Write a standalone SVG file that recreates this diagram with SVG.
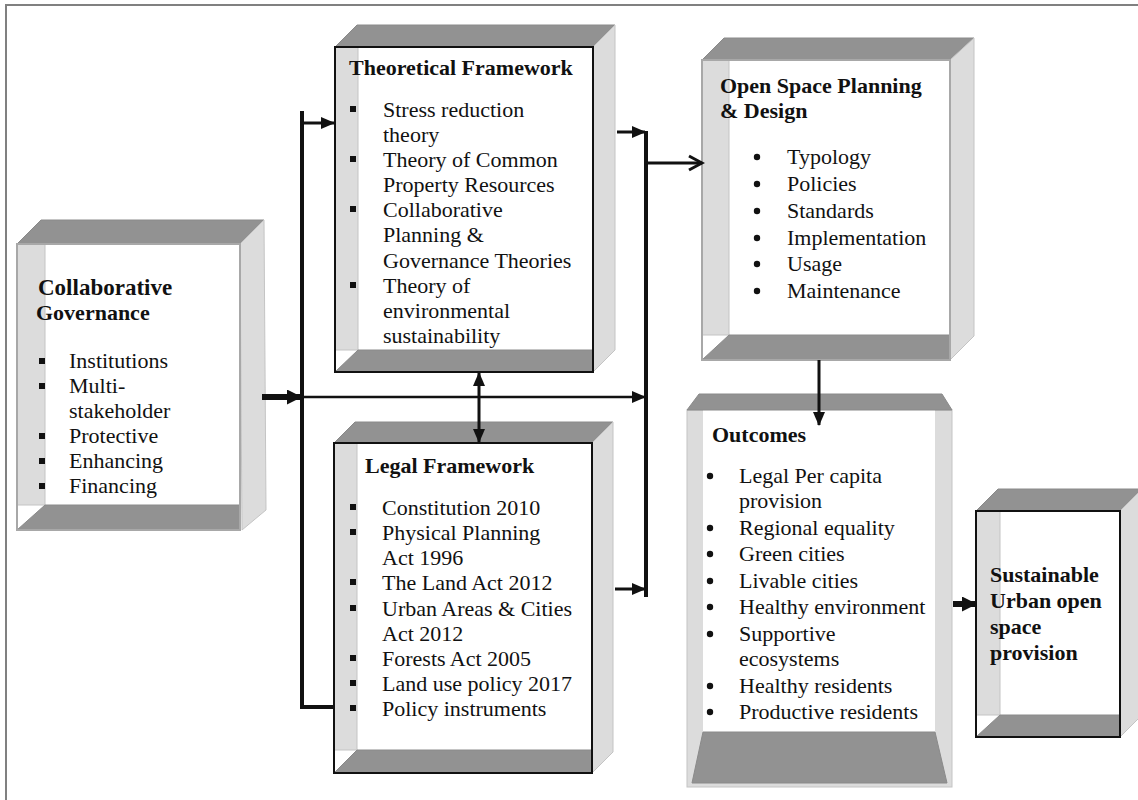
<svg xmlns="http://www.w3.org/2000/svg" width="1138" height="800" viewBox="0 0 1138 800">
<defs>
<style>
.t{font-family:"Liberation Serif","Times New Roman",serif;font-size:22px;fill:#111}
.b{font-weight:bold}
.dk{fill:#929292;stroke:#8a8a8a;stroke-width:1}
.lt{fill:#dcdcdc;stroke:#c4c4c4;stroke-width:1}
.fr{fill:#fff}
.ob{fill:none;stroke:#111;stroke-width:2}
.og{fill:none;stroke:#a8a8a8;stroke-width:2}
.sq{fill:#111}
.c{fill:none;stroke:#111;stroke-linecap:butt}
</style>
<marker id="ah" markerUnits="userSpaceOnUse" markerWidth="14" markerHeight="12" refX="13" refY="6" orient="auto-start-reverse" viewBox="0 0 14 12"><path d="M0,0 L14,6 L0,12 z" fill="#111"/></marker>
<marker id="ahb" markerUnits="userSpaceOnUse" markerWidth="15" markerHeight="15" refX="14" refY="7.5" orient="auto" viewBox="0 0 15 15"><path d="M0,0 L15,7.5 L0,15 z" fill="#111"/></marker>
<marker id="aho" markerUnits="userSpaceOnUse" markerWidth="18" markerHeight="18" refX="15" refY="9" orient="auto" viewBox="0 0 18 18"><path d="M2,2 L15,9 L2,16" fill="none" stroke="#111" stroke-width="3"/></marker>
</defs>
<rect width="1138" height="800" fill="#fff"/>
<path d="M6,810 L6,5 L1138,5" fill="none" stroke="#808080" stroke-width="2"/>

<g id="collaborative-governance">
<polygon class="dk" points="17,244 41,220 264,220 240,244"/>
<polygon class="lt" points="240,244 264,220 266,510 242,530"/>
<rect class="fr" x="17" y="244" width="223" height="286"/>
<rect class="lt" x="17" y="244" width="28" height="261"/>
<polygon class="dk" points="17,530 45,505 240,505 240,530"/>
<rect class="og" x="17" y="244" width="223" height="286"/>
<text class="t b" x="38" y="295" style="font-size:23px">Collaborative</text>
<text class="t b" x="36" y="320">Governance</text>
<rect class="sq" x="39" y="358" width="6" height="6"/>
<rect class="sq" x="39" y="383" width="6" height="6"/>
<rect class="sq" x="39" y="433" width="6" height="6"/>
<rect class="sq" x="39" y="458" width="6" height="6"/>
<rect class="sq" x="39" y="483" width="6" height="6"/>
<text class="t" x="69" y="368">Institutions</text>
<text class="t" x="69" y="393">Multi-</text>
<text class="t" x="69" y="418">stakeholder</text>
<text class="t" x="69" y="443">Protective</text>
<text class="t" x="69" y="468">Enhancing</text>
<text class="t" x="69" y="493">Financing</text>
</g>

<g id="theoretical-framework">
<polygon class="dk" points="335,47 357,25 615,25 593,47"/>
<polygon class="lt" points="593,47 615,25 615,350 593,372"/>
<rect class="fr" x="335" y="47" width="258" height="325"/>
<rect class="lt" x="335" y="47" width="23" height="303"/>
<polygon class="dk" points="335,372 358,350 593,350 593,372"/>
<rect class="ob" x="335" y="47" width="258" height="325"/>
<text class="t b" x="349" y="75">Theoretical Framework</text>
<rect class="sq" x="350" y="106" width="6" height="6"/>
<rect class="sq" x="350" y="156" width="6" height="6"/>
<rect class="sq" x="350" y="206" width="6" height="6"/>
<rect class="sq" x="350" y="282" width="6" height="6"/>
<text class="t" x="383" y="117">Stress reduction</text>
<text class="t" x="383" y="142">theory</text>
<text class="t" x="383" y="167">Theory of Common</text>
<text class="t" x="383" y="192">Property Resources</text>
<text class="t" x="383" y="217">Collaborative</text>
<text class="t" x="383" y="242">Planning &amp;</text>
<text class="t" x="383" y="268">Governance Theories</text>
<text class="t" x="383" y="293">Theory of</text>
<text class="t" x="383" y="318">environmental</text>
<text class="t" x="383" y="343">sustainability</text>
</g>

<g id="legal-framework">
<polygon class="dk" points="334,443 355,422 613,422 592,443"/>
<polygon class="lt" points="592,443 613,422 613,752 592,773"/>
<rect class="fr" x="334" y="443" width="258" height="330"/>
<rect class="lt" x="334" y="443" width="23" height="307"/>
<polygon class="dk" points="334,773 357,750 592,750 592,773"/>
<rect class="ob" x="334" y="443" width="258" height="330"/>
<text class="t b" x="365" y="473">Legal Framework</text>
<rect class="sq" x="350" y="504" width="6" height="6"/>
<rect class="sq" x="350" y="529" width="6" height="6"/>
<rect class="sq" x="350" y="579" width="6" height="6"/>
<rect class="sq" x="350" y="605" width="6" height="6"/>
<rect class="sq" x="350" y="655" width="6" height="6"/>
<rect class="sq" x="350" y="680" width="6" height="6"/>
<rect class="sq" x="350" y="705" width="6" height="6"/>
<text class="t" x="382" y="515">Constitution 2010</text>
<text class="t" x="382" y="540">Physical Planning</text>
<text class="t" x="382" y="565">Act 1996</text>
<text class="t" x="382" y="590">The Land Act 2012</text>
<text class="t" x="382" y="616">Urban Areas &amp; Cities</text>
<text class="t" x="382" y="641">Act 2012</text>
<text class="t" x="382" y="666">Forests Act 2005</text>
<text class="t" x="382" y="691">Land use policy 2017</text>
<text class="t" x="382" y="716">Policy instruments</text>
</g>

<g id="open-space-planning">
<polygon class="dk" points="702,60 724,38 974,38 950,60"/>
<polygon class="lt" points="950,60 974,38 974,336 950,360"/>
<rect class="fr" x="702" y="60" width="248" height="300"/>
<rect class="lt" x="702" y="60" width="27" height="275"/>
<polygon class="dk" points="702,360 729,335 950,335 950,360"/>
<rect class="og" x="702" y="60" width="248" height="300"/>
<text class="t b" x="720" y="93">Open Space Planning</text>
<text class="t b" x="720" y="118">&amp; Design</text>
<circle class="sq" cx="757" cy="157" r="3.2"/>
<circle class="sq" cx="757" cy="184" r="3.2"/>
<circle class="sq" cx="757" cy="211" r="3.2"/>
<circle class="sq" cx="757" cy="238" r="3.2"/>
<circle class="sq" cx="757" cy="264" r="3.2"/>
<circle class="sq" cx="757" cy="291" r="3.2"/>
<text class="t" x="787" y="164">Typology</text>
<text class="t" x="787" y="191">Policies</text>
<text class="t" x="787" y="218">Standards</text>
<text class="t" x="787" y="245">Implementation</text>
<text class="t" x="787" y="271">Usage</text>
<text class="t" x="787" y="298">Maintenance</text>
</g>

<g id="outcomes">
<rect class="lt" x="687" y="410" width="265" height="377"/>
<rect class="fr" x="703" y="410" width="232" height="322"/>
<polygon class="dk" points="703,732 935,732 947,783 692,783"/>
<polygon class="dk" points="687,410 699,394 942,394 952,410"/>
<text class="t b" x="712" y="442">Outcomes</text>
<circle class="sq" cx="710" cy="476" r="3.2"/>
<circle class="sq" cx="710" cy="528" r="3.2"/>
<circle class="sq" cx="710" cy="554" r="3.2"/>
<circle class="sq" cx="710" cy="581" r="3.2"/>
<circle class="sq" cx="710" cy="607" r="3.2"/>
<circle class="sq" cx="710" cy="634" r="3.2"/>
<circle class="sq" cx="710" cy="686" r="3.2"/>
<circle class="sq" cx="710" cy="712" r="3.2"/>
<text class="t" x="739" y="483">Legal Per capita</text>
<text class="t" x="739" y="508">provision</text>
<text class="t" x="739" y="535">Regional equality</text>
<text class="t" x="739" y="561">Green cities</text>
<text class="t" x="739" y="588">Livable cities</text>
<text class="t" x="739" y="614">Healthy environment</text>
<text class="t" x="739" y="641">Supportive</text>
<text class="t" x="739" y="666">ecosystems</text>
<text class="t" x="739" y="693">Healthy residents</text>
<text class="t" x="739" y="719">Productive residents</text>
</g>

<g id="sustainable-provision">
<polygon class="dk" points="976,511 998,489 1142,489 1120,511"/>
<polygon class="lt" points="1120,511 1142,489 1142,715 1120,737"/>
<rect class="fr" x="976" y="511" width="144" height="226"/>
<rect class="lt" x="976" y="511" width="24" height="204"/>
<polygon class="dk" points="976,737 1000,715 1120,715 1120,737"/>
<rect class="ob" x="976" y="511" width="144" height="226"/>
<text class="t b" x="990" y="582">Sustainable</text>
<text class="t b" x="990" y="608">Urban open</text>
<text class="t b" x="990" y="634">space</text>
<text class="t b" x="990" y="660">provision</text>
</g>

<g id="connectors">
<path class="c" d="M262,397 L301,397" stroke-width="6" marker-end="url(#ahb)"/>
<path class="c" d="M302,111 L302,707 L334,707" stroke-width="4" fill="none"/>
<path class="c" d="M302,123 L334,123" stroke-width="3" marker-end="url(#ah)"/>
<path class="c" d="M302,397 L645,397" stroke-width="2.5" marker-end="url(#ah)"/>
<path class="c" d="M646,131 L646,597" stroke-width="4"/>
<path class="c" d="M617,132 L645,132" stroke-width="3" marker-end="url(#ah)"/>
<path class="c" d="M615,589 L645,589" stroke-width="3" marker-end="url(#ah)"/>
<path class="c" d="M646,163 L702,163" stroke-width="3" marker-end="url(#aho)"/>
<path class="c" d="M479,373 L479,442" stroke-width="3" marker-start="url(#ah)" marker-end="url(#ah)"/>
<path class="c" d="M819,360 L819,425" stroke-width="3" marker-end="url(#ah)"/>
<path class="c" d="M953,604 L976,604" stroke-width="6" marker-end="url(#ahb)"/>
</g>
</svg>
